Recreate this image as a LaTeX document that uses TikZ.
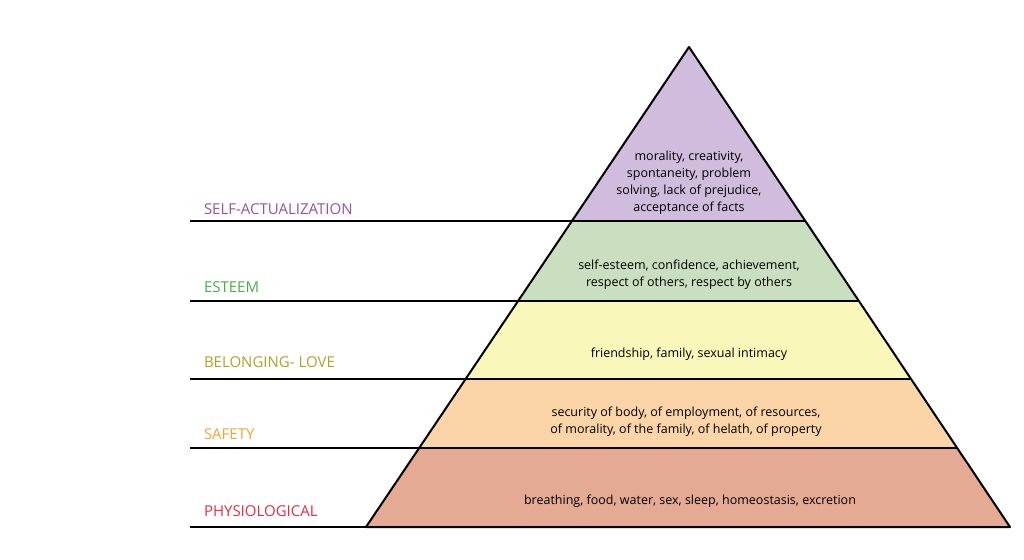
\documentclass[tikz,border=0pt]{standalone}
\usepackage{fontspec}
\setmainfont{Open Sans}
\begin{document}
\begin{tikzpicture}[x=1pt,y=-1pt,line width=2pt,line join=round,
  band/.style={draw=black},
  lab/.style={anchor=base west,font=\fontsize{15}{16}\selectfont,inner sep=0},
  txt/.style={align=center,font=\fontsize{12.5}{17}\selectfont,inner sep=0}]
\useasboundingbox (0,0) rectangle (1024,559);
\definecolor{cP}{HTML}{D0BCDD}\definecolor{cG}{HTML}{C9DFC0}
\definecolor{cY}{HTML}{FAF7BA}\definecolor{cO}{HTML}{FBD4A8}
\definecolor{cR}{HTML}{E5AA93}
\definecolor{tP}{HTML}{9A4FA0}\definecolor{tG}{HTML}{4DAA4D}
\definecolor{tY}{HTML}{B0A12A}\definecolor{tO}{HTML}{F3A236}
\definecolor{tR}{HTML}{E0303F}
\coordinate (a) at (689,47);
\coordinate (l1) at (572,221); \coordinate (r1) at (805,221);
\coordinate (l2) at (518,301); \coordinate (r2) at (859,301);
\coordinate (l3) at (465,379); \coordinate (r3) at (911,379);
\coordinate (l4) at (419,448); \coordinate (r4) at (958,448);
\coordinate (l5) at (366,527); \coordinate (r5) at (1010,527);
\fill[cP] (a)--(r1)--(l1)--cycle;
\fill[cG] (l1)--(r1)--(r2)--(l2)--cycle;
\fill[cY] (l2)--(r2)--(r3)--(l3)--cycle;
\fill[cO] (l3)--(r3)--(r4)--(l4)--cycle;
\fill[cR] (l4)--(r4)--(r5)--(l5)--cycle;
\coordinate (e1) at (190,221); \coordinate (e2) at (190,301);
\coordinate (e3) at (190,379); \coordinate (e4) at (190,448);
\coordinate (e5) at (190,527);
\draw (a)--(l5)--(r5)--cycle;
\draw (e1)--(r1); \draw (e2)--(r2); \draw (e3)--(r3); \draw (e4)--(r4); \draw (e5)--(l5);
\node[lab,text=tP] (n1) at (203,214) {SELF-ACTUALIZATION};
\node[lab,text=tG] (n2) at (203,292) {ESTEEM};
\node[lab,text=tY] (n3) at (203,367) {BELONGING- LOVE};
\node[lab,text=tO] (n4) at (203,439) {SAFETY};
\node[lab,text=tR] (n5) at (203,516) {PHYSIOLOGICAL};
\node[txt] (t1) at (689,183) {morality, creativity,\\spontaneity, problem\\solving, lack of prejudice,\\acceptance of facts};
\node[txt] (t2) at (689,275) {self-esteem, confidence, achievement,\\respect of others, respect by others};
\node[txt] (t3) at (689,354) {friendship, family, sexual intimacy};
\node[txt] (t4) at (686,422) {security of body, of employment, of resources,\\of morality, of the family, of helath, of property};
\node[txt] (t5) at (690,501) {breathing, food, water, sex, sleep, homeostasis, excretion};
\end{tikzpicture}
\end{document}
